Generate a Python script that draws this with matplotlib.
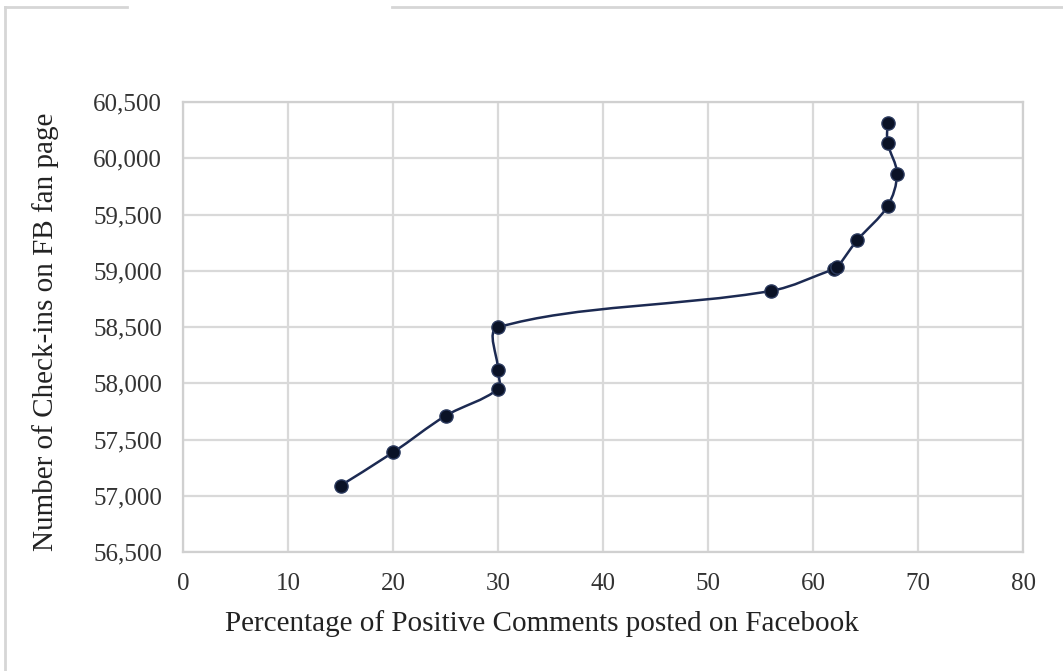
import numpy as np
import matplotlib.pyplot as plt
from matplotlib.path import Path
from matplotlib.patches import PathPatch
from matplotlib.lines import Line2D
from matplotlib.ticker import FuncFormatter

# --- data ---
pct_positive = [15, 20, 25, 30, 30, 30, 56, 62, 62.3, 64.2, 67.1, 68, 67.1, 67.1]
checkins = [57090, 57385, 57710, 57950, 58120, 58497, 58821, 59015, 59030,
            59270, 59574, 59862, 60138, 60315]

x_ticks = [0, 10, 20, 30, 40, 50, 60, 70, 80]
y_ticks = [56500, 57000, 57500, 58000, 58500, 59000, 59500, 60000, 60500]

W, H = 1063, 671
plt.rcParams['font.family'] = ['Liberation Serif', 'DejaVu Serif']

fig = plt.figure(figsize=(W / 100, H / 100), dpi=100)
ax = fig.add_axes([183 / W, 1 - 552 / H, (1023 - 183) / W, (552 - 102) / H])

# pixels per data unit, so the smoothing works in screen space
sx, sy = 840 / 80, 450 / 4000


def smooth_path(xs, ys):
    # Excel-like smoothed line: cubic Bezier, tangents scaled by chord length
    pts = np.column_stack([np.asarray(xs) * sx, np.asarray(ys) * sy]).astype(float)
    n = len(pts)
    tang = []
    for i in range(n):
        p0 = pts[max(i - 1, 0)]
        p2 = pts[min(i + 1, n - 1)]
        tang.append(p2 - p0)
    verts = [pts[0]]
    codes = [Path.MOVETO]
    for i in range(n - 1):
        p1, p2 = pts[i], pts[i + 1]
        d12 = np.hypot(*(p2 - p1))
        d01 = np.hypot(*(p1 - pts[max(i - 1, 0)])) if i > 0 else d12
        d23 = np.hypot(*(pts[min(i + 2, n - 1)] - p2)) if i + 2 < n else d12
        c1 = p1 + tang[i] * d12 / (d01 + d12) / 3.0
        c2 = p2 - tang[i + 1] * d12 / (d12 + d23) / 3.0
        verts += [c1, c2, p2]
        codes += [Path.CURVE4] * 3
    verts = np.array(verts)
    verts[:, 0] /= sx
    verts[:, 1] /= sy
    return Path(verts, codes)


line_col = '#1c2a52'
ax.add_patch(PathPatch(smooth_path(pct_positive, checkins), facecolor='none',
                       edgecolor=line_col, lw=1.8, zorder=3))
ax.plot(pct_positive, checkins, 'o', color='#0a1226', markersize=9.5,
        markeredgecolor='#2b3a5e', markeredgewidth=1.0, zorder=4)

ax.set_xlim(0, 80)
ax.set_ylim(56500, 60500)
ax.set_xticks(x_ticks)
ax.set_yticks(y_ticks)
ax.yaxis.set_major_formatter(FuncFormatter(lambda v, p: f"{int(v):,}"))
ax.tick_params(length=0, labelsize=18, colors='#333333', pad=15)
ax.tick_params(axis='x', pad=15)

ax.grid(True, color='#d9d9d9', lw=1.6)
ax.set_axisbelow(True)
for s in ax.spines.values():
    s.set_color('#d0d0d0')
    s.set_linewidth(1.6)

ax.set_xlabel('Percentage of Positive Comments posted on Facebook',
              fontsize=21, color='#222222')
ax.xaxis.set_label_coords((542 - 183) / (1023 - 183), -0.13)
ax.set_ylabel('Number of Check-ins on FB fan page', fontsize=21, color='#222222')
ax.yaxis.set_label_coords(-0.148, 0.49)

# outer chart border (partly cut in the reference)
bc = '#d6d6d6'
fig.add_artist(Line2D([5 / W, 5 / W], [0, 1 - 7 / H], color=bc, lw=2))
fig.add_artist(Line2D([5 / W, 127 / W], [1 - 7 / H, 1 - 7 / H], color=bc, lw=2))
fig.add_artist(Line2D([392 / W, 1], [1 - 7 / H, 1 - 7 / H], color=bc, lw=2))

fig.savefig('out.png', dpi=100)
